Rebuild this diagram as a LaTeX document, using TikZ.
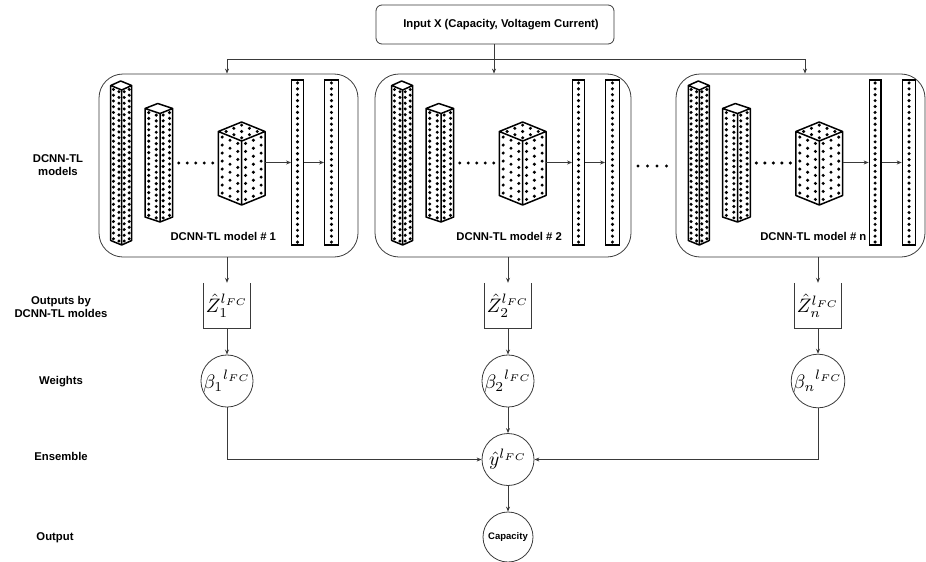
\documentclass[tikz,border=0pt]{standalone}
\usepackage[no-math]{fontspec}
\setmainfont{Liberation Sans}
\usetikzlibrary{arrows.meta}
\definecolor{edge}{HTML}{3A3A3A}

\tikzset{
  conn/.style={draw=edge, line width=0.8pt},
  arr/.style={conn, -{Stealth[length=5pt,width=4pt]}},
  lab/.style={font=\fontsize{11.3}{13.7}\selectfont\bfseries, align=center, inner sep=0pt},
  modelbox/.style={draw=edge, line width=0.8pt, rounded corners=24pt, inner sep=0pt},
  inbox/.style={draw=edge, line width=0.8pt, rounded corners=6pt, inner sep=0pt,
    minimum width=238pt, minimum height=39pt, font=\fontsize{11.3}{13.7}\selectfont\bfseries},
  blockline/.style={draw=black, line width=1.5pt, line join=round},
  bar/.style={draw=black, line width=1.3pt, minimum width=11.6pt, minimum height=165pt, inner sep=0pt},
  zbox/.style={minimum width=46pt, minimum height=45pt, inner sep=0pt},
  wnode/.style={circle, draw=edge, line width=0.8pt, minimum size=52pt, inner sep=0pt},
  capnode/.style={circle, draw=edge, line width=0.8pt, minimum size=50pt, inner sep=0pt, font=\fontsize{9.5}{11}\selectfont\bfseries},
}

\newcommand\bigmath[1]{\scalebox{1.95}{$#1$}}

% isometric block: left x, front x, right x, front top y, front bottom y,
% slant height, dot columns per face, dot rows, top-face grid size
\newcommand\isoblock[9]{%
  \foreach \i in {1,...,#7}{%
    \foreach \j in {1,...,#8}{%
      \pgfmathsetmacro\pu{(\i-0.5)/#7}%
      \pgfmathsetmacro\pv{(\j-0.5)/#8}%
      \fill ({#1+\pu*(#2-#1)},{#4-#6+\pu*#6+\pv*(#5-#4)}) circle (1.7pt);
      \fill ({#2+\pu*(#3-#2)},{#4-\pu*#6+\pv*(#5-#4)}) circle (1.7pt);
    }}%
  \ifnum#9>0
    \foreach \i in {1,...,#9}{\foreach \j in {1,...,#9}{%
      \pgfmathsetmacro\pa{(\i-0.5)/#9}\pgfmathsetmacro\pb{(\j-0.5)/#9}%
      \fill ({#2+\pa*(#1-#2)+\pb*(#3-#2)},{#4-(\pa+\pb)*#6}) circle (1.7pt);}}%
  \fi
  \draw[blockline] (#1,{#4-#6}) -- (#2,#4) -- (#3,{#4-#6}) -- ({#1+#3-#2},{#4-2*#6}) -- cycle
    (#1,{#4-#6}) -- (#1,{#5-#6}) -- (#2,#5) -- (#3,{#5-#6}) -- (#3,{#4-#6})
    (#2,#4) -- (#2,#5);
}

% one DCNN-TL model: x of first column, name prefix
\newcommand\cnnmodel[2]{%
  \begin{scope}[shift={(#1,0)}]
    \isoblock{0}{11}{21}{90}{245}{4.5}{2}{27}{0}
    \isoblock{34.3}{49.3}{62}{113.5}{222}{5}{2}{19}{0}
    \isoblock{107.6}{131}{154.3}{141}{205}{9.5}{3}{8}{3}
    \foreach \k in {0,...,4} \fill ({68+8.5*\k},163) circle (1.7pt);
    \node[bar] (#2a) at (186.8,162.5) {};
    \node[bar, minimum width=13.5pt] (#2b) at (220.75,162.5) {};
    \foreach \k in {1,...,28} {
      \fill (186.8,{80+(\k-0.5)*165/28}) circle (1.7pt);
      \fill (220.75,{80+(\k-0.5)*165/28}) circle (1.7pt);
    }
    \coordinate (#2c) at (154.3,162.5);
    \draw[arr] (#2c) -- (#2a.west);
    \draw[arr] (#2a.east) -- (#2b.west);
  \end{scope}
}

\begin{document}
\begin{tikzpicture}[x=1pt,y=-1pt]
  \useasboundingbox (0,0) rectangle (926,562);

  % input
  \node[inbox] (input) at (495,24.5) {\hspace*{12pt}Input X (Capacity, Voltagem Current)};

  % model frames
  \node[modelbox, minimum width=259pt, minimum height=183pt] (m1) at (228.5,165.5) {};
  \node[modelbox, minimum width=256pt, minimum height=183pt] (m2) at (503,165.5) {};
  \node[modelbox, minimum width=249pt, minimum height=183pt] (m3) at (800.5,165.5) {};

  \cnnmodel{110.7}{p1}
  \cnnmodel{391.7}{p2}
  \cnnmodel{688.3}{p3}

  \node[lab] (t1) at (223.3,236.5) {DCNN-TL model \# 1};
  \node[lab] (t2) at (509.2,236.5) {DCNN-TL model \# 2};
  \node[lab] (t3) at (813.3,236.5) {DCNN-TL model \# n};

  \foreach \k in {0,...,3} \fill ({638+9.5*\k},166) circle (1.7pt);

  % distribution of the input
  \coordinate (split) at (494,59);
  \coordinate (s1) at (227,59);
  \coordinate (s3) at (805,59);
  \draw[conn] (input.south -| split) -- (split);
  \draw[conn] (s1) -- (s3);
  \draw[arr] (s1) -- (s1 |- m1.north);
  \draw[arr] (split) -- (split |- m2.north);
  \draw[arr] (s3) -- (s3 |- m3.north);

  % model outputs
  \node[zbox] (z1) at (227,305.5) {\bigmath{{\hat{Z}_1}^{l_{FC}}}};
  \node[zbox] (z2) at (508,305.5) {\bigmath{{\hat{Z}_2}^{l_{FC}}}};
  \node[zbox] (z3) at (818,305.5) {\bigmath{{\hat{Z}_n}^{l_{FC}}}};
  \foreach \z in {z1,z2,z3}
    \draw[conn] (\z.north west) -- (\z.south west) -- (\z.south east) -- (\z.north east);
  \draw[arr] (z1 |- m1.south) -- (z1.north);
  \draw[arr] (z2 |- m2.south) -- (z2.north);
  \draw[arr] (z3 |- m3.south) -- (z3.north);

  % weights
  \node[wnode] (b1) at (227,381) {\bigmath{{\beta_1}^{l_{FC}}}};
  \node[wnode] (b2) at (508,381) {\bigmath{{\beta_2}^{l_{FC}}}};
  \node[wnode] (b3) at (818,381) {\bigmath{{\beta_n}^{l_{FC}}}};
  \draw[arr] (z1.south) -- (b1.north);
  \draw[arr] (z2.south) -- (b2.north);
  \draw[arr] (z3.south) -- (b3.north);

  % ensemble and output
  \node[wnode] (yhat) at (508,459.5) {\bigmath{\hat{y}^{l_{FC}}}};
  \node[capnode] (cap) at (508,537) {Capacity};
  \draw[arr] (b2.south) -- (yhat.north);
  \draw[arr] (b1.south) |- (yhat.west);
  \draw[arr] (b3.south) |- (yhat.east);
  \draw[arr] (yhat.south) -- (cap.north);

  % row captions
  \node[lab] (r1) at (58,165) {DCNN-TL\\models};
  \node[lab] (r2) at (61,307) {Outputs by\\DCNN-TL moldes};
  \node[lab] (r3) at (61,382) {Weights};
  \node[lab] (r4) at (61,456) {Ensemble};
  \node[lab] (r5) at (55,538) {Output};
\end{tikzpicture}
\end{document}
